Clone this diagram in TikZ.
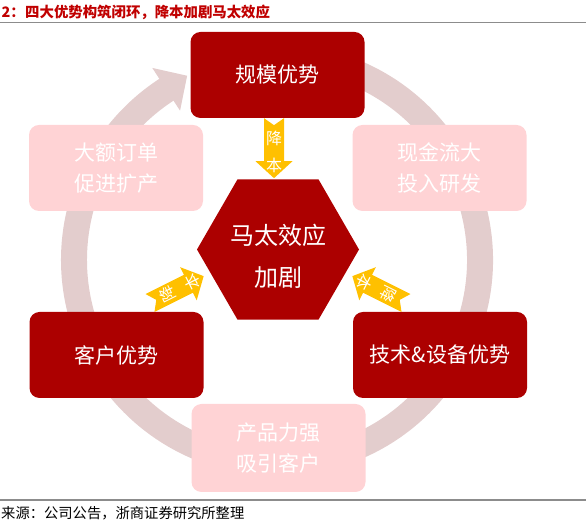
\documentclass[tikz,border=0pt]{standalone}
\usepackage{fontspec}
\newfontfamily\cjk{Noto Sans CJK SC}
\usetikzlibrary{calc,shapes.geometric}
\definecolor{dred}{HTML}{AC0000}
\definecolor{lpink}{HTML}{FFD3D5}
\definecolor{ringc}{HTML}{E3CDCD}
\definecolor{ygold}{HTML}{FFC000}
\definecolor{titlered}{HTML}{C00000}
\definecolor{rulegray}{HTML}{8C8C8C}
\begin{document}
\begin{tikzpicture}[x=1pt,y=1pt,
  box/.style={rounded corners=10pt, minimum width=174pt, minimum height=86pt, inner sep=0pt, text=white, align=center, font=\cjk\fontsize{21}{31}\selectfont},
  darkbox/.style={box, fill=dred},
  lightbox/.style={box, fill=lpink},
  ylabel/.style={text=white, inner sep=0pt, font=\cjk\fontsize{16}{16}\selectfont, transform shape, rotate=90},
  hexlbl/.style={text=white, inner sep=0pt, align=center, font=\cjk\fontsize{24}{42}\selectfont},
  rulel/.style={rulegray, line width=1.5pt},
]
\useasboundingbox (0,0) rectangle (586,529);

% title and rules
\node[anchor=west, inner sep=0pt, text=titlered, font=\cjk\bfseries\fontsize{14.4}{14.4}\selectfont] (title) at (25,517) {四大优势构筑闭环，降本加剧马太效应};
\node[anchor=east, inner sep=0pt, text=titlered, font=\cjk\bfseries\fontsize{14.4}{14.4}\selectfont] (titlenum) at (title.west) {2：};
\coordinate (rtl) at (0,506.5);
\coordinate (rtr) at (586,506.5);
\draw[rulel] (rtl) -- (rtr);
\coordinate (rbl) at (0,29);
\coordinate (rbr) at (586,29);
\draw[rulel] (rbl) -- (rbr);
\node[anchor=west, inner sep=0pt, font=\cjk\fontsize{14.3}{14.3}\selectfont] (src) at (1,16) {来源：公司公告，浙商证券研究所整理};

% ring with arrow
\coordinate (rc) at (277,269);
\draw[ringc, line width=26pt] ($(rc)+(105:203)$) arc[start angle=105, end angle=-238, radius=203];
\fill[ringc] ($(rc)+(123:178)$) -- ($(rc)+(116:205)$) -- ($(rc)+(123:229)$) -- cycle;

% boxes
\node[darkbox] (scale) at (277.5,454) {规模优势};
\node[lightbox] (order) at (116,361) {大额订单\\促进扩产};
\node[lightbox] (cash) at (439.5,361) {现金流大\\投入研发};
\node[darkbox] (client) at (116.5,174) {客户优势};
\node[darkbox] (tech) at (440,174) {技术\&设备优势};
\node[lightbox, minimum height=88pt] (prod) at (278.5,81) {产品力强\\吸引客户};

% hexagon
\node[regular polygon, regular polygon sides=6, minimum size=162pt, inner sep=0pt, outer sep=0pt, fill=dred] (hex) at (278,279.5) {};
\node[hexlbl] (hexlabel) at ($(hex.center)+(0,-6.5)$) {马太效应\\加剧};

% yellow arrows
\coordinate (dt) at ($(scale.south)+(-3.5,0)$);
\begin{scope}[shift={(dt)}, rotate=-90]
  \fill[ygold] (0,10) -- (43,10) -- (43,18.5) -- (60,0) -- (43,-18.5) -- (43,-10) -- (0,-10) -- (7,0) -- cycle;
  \node[ylabel] (d1) at (20,0) {降};
  \node[ylabel] (d2) at (47,0) {本};
\end{scope}
\coordinate (lt) at (150,226);
\begin{scope}[shift={(lt)}, rotate=26.6]
  \fill[ygold] (0,10) -- (43,10) -- (43,18.5) -- (60,0) -- (43,-18.5) -- (43,-10) -- (0,-10) -- (7,0) -- cycle;
  \node[ylabel] (l1) at (20,0) {降};
  \node[ylabel] (l2) at (47,0) {本};
\end{scope}
\coordinate (rt) at (406,226);
\begin{scope}[shift={(rt)}, rotate=153.4]
  \fill[ygold] (0,10) -- (43,10) -- (43,18.5) -- (60,0) -- (43,-18.5) -- (43,-10) -- (0,-10) -- (7,0) -- cycle;
  \node[ylabel] (r1) at (20,0) {降};
  \node[ylabel] (r2) at (47,0) {本};
\end{scope}
\end{tikzpicture}
\end{document}
